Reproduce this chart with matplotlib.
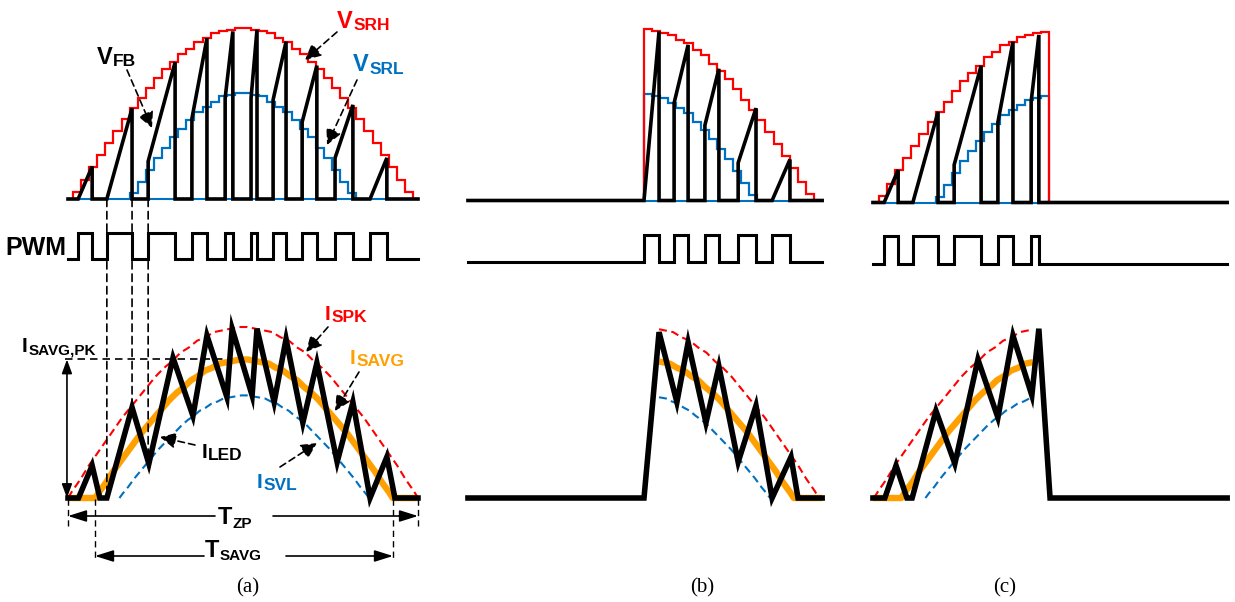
import numpy as np
import matplotlib.pyplot as plt
from matplotlib.patches import ConnectionPatch

plt.rcParams['font.family'] = ['Liberation Sans', 'DejaVu Sans']

# ============================================
# DATA  (time in ms over one 10 ms line half-cycle,
#        amplitudes normalised to the V_SRH / I_SPK peak)
# ============================================
sample_ms = 0.2314      # width of one step of the sampled references
cut_ms = 5.0            # phase-cut instant used in (b) and (c)

# rising half of the sampled references (the falling half is its mirror)
srh_rise = [0.04, 0.11, 0.19, 0.26, 0.33, 0.40, 0.47, 0.53, 0.59, 0.65, 0.71,
            0.76, 0.80, 0.85, 0.88, 0.92, 0.94, 0.97, 0.98, 0.99, 1.00]
srl_rise = [0.035, 0.10, 0.17, 0.24, 0.30, 0.36, 0.41, 0.46, 0.51, 0.54,
            0.57, 0.60, 0.61, 0.62]
srl_floor = (0.30, 9.30)

# V_FB ramps in (a): on time, off time, start level, end level
ramp_on  = [0.29, 1.11, 2.29, 3.54, 4.49, 5.23, 5.86, 6.69, 7.63, 8.63]
ramp_off = [0.69, 1.83, 3.06, 3.97, 4.71, 5.40, 6.23, 7.11, 8.14, 9.11]
ramp_lo  = [0.00, 0.00, 0.22, 0.47, 0.59, 0.59, 0.58, 0.45, 0.24, 0.00]
ramp_hi  = [0.19, 0.53, 0.80, 0.94, 0.98, 0.99, 0.92, 0.78, 0.55, 0.24]

# V_FB ramps in (b), after the leading-edge cut
ramp_on_b  = [5.00, 5.86, 6.74, 7.69, 8.66]
ramp_off_b = [5.43, 6.26, 7.14, 8.20, 9.17]
ramp_lo_b  = [0.00, 0.57, 0.44, 0.22, 0.00]
ramp_hi_b  = [0.99, 0.91, 0.77, 0.54, 0.24]

# (c) keeps the first ramps of (a) up to the trailing-edge cut
n_ramps_c = 5

# LED current corners
iled_a_t = [0.00, 0.30, 0.69, 0.91, 1.11, 1.83, 2.31, 3.00, 3.57, 3.97, 4.54, 4.69,
            5.26, 5.40, 5.89, 6.23, 6.71, 7.11, 7.69, 8.14, 8.63, 9.11, 9.34, 10.00]
iled_a_i = [0.00, 0.00, 0.19, 0.00, 0.00, 0.53, 0.20, 0.82, 0.48, 0.95, 0.59, 0.99,
            0.60, 0.99, 0.56, 0.93, 0.44, 0.79, 0.21, 0.56, 0.00, 0.24, 0.00, 0.00]
iled_b_t = [-0.03, 5.00, 5.43, 5.94, 6.26, 6.77, 7.14, 7.69, 8.20, 8.66, 9.20, 9.40, 10.09]
iled_b_i = [0.00, 0.00, 0.97, 0.56, 0.91, 0.44, 0.77, 0.21, 0.54, 0.00, 0.24, 0.00, 0.00]
iled_c_t = [-0.03, 0.31, 0.63, 0.94, 1.09, 1.77, 2.31, 2.97, 3.54, 3.97, 4.51, 4.71, 5.03, 10.09]
iled_c_i = [0.00, 0.00, 0.19, 0.00, 0.00, 0.51, 0.20, 0.81, 0.47, 0.95, 0.60, 0.99, 0.00, 0.00]

# current envelopes: (start, end) in ms and peak
spk_span, spk_peak = (0.00, 10.00), 1.00
savg_span, savg_peak = (0.78, 9.28), 0.81
svl_span, svl_peak = (1.47, 8.60), 0.60

# parts of the envelopes shown in each panel
env_window = {'a': (0.00, 10.00), 'b': (5.43, 10.09), 'c': (-0.03, 4.54)}

RED, BLUE, ORANGE = '#FF0000', '#0070C0', '#FFA000'

# ============================================
# FIGURE
# ============================================
W, H = 1235, 602
PX_MS, PX_V = 35.0, 171.0
fig = plt.figure(figsize=(W / 100, H / 100), dpi=100)


def make_axes(x0, y0, px_v):
    t_lo, t_hi, v_lo, v_hi = -1.0, 11.0, -0.5, 1.3
    left, right = x0 + t_lo * PX_MS, x0 + t_hi * PX_MS
    bottom, top = y0 - v_lo * px_v, y0 - v_hi * px_v
    a = fig.add_axes([left / W, 1 - bottom / H, (right - left) / W, (bottom - top) / H])
    a.set_xlim(t_lo, t_hi)
    a.set_ylim(v_lo, v_hi)
    a.axis('off')
    return a


def saw(on, off, lo, hi, t0, t1):
    t, v = [t0], [0.0]
    for a_, b_, l_, h_ in zip(on, off, lo, hi):
        t += [a_, a_, b_, b_]
        v += [0.0, l_, h_, 0.0]
    return t + [t1], v + [0.0]


srh = np.array(srh_rise + srh_rise[::-1])
srh_edges = cut_ms + sample_ms * (np.arange(len(srh) + 1) - len(srh_rise))
srl = np.array(srl_rise + srl_rise[::-1])
srl_edges = cut_ms + sample_ms * (np.arange(len(srl) + 1) - len(srl_rise))
profile = srh


def envelope(span, peak):
    lo, hi = span
    t = lo + (np.arange(len(profile)) + 0.5) * (hi - lo) / len(profile)
    return np.r_[lo, t, hi], np.r_[0.0, peak * profile, 0.0]


def window(t, v, lo, hi):
    m = (t > lo) & (t < hi)
    return (np.r_[lo, t[m], hi],
            np.r_[np.interp(lo, t, v), v[m], np.interp(hi, t, v)])


panels = {
    'a': dict(x0=68, top=199, pwm=259, pwm_px=26.5, t0=0.0, t1=10.0,
              ramps=(ramp_on, ramp_off, ramp_lo, ramp_hi),
              red=slice(0, None), blue=slice(0, None), floor=srl_floor,
              iled=(iled_a_t, iled_a_i)),
    'b': dict(x0=469, top=200.5, pwm=261.7, pwm_px=27, t0=-0.03, t1=10.09,
              ramps=(ramp_on_b, ramp_off_b, ramp_lo_b, ramp_hi_b),
              red=slice(len(srh_rise), None), blue=slice(len(srl_rise), None),
              floor=(cut_ms, srl_floor[1]), iled=(iled_b_t, iled_b_i)),
    'c': dict(x0=874, top=202.5, pwm=264, pwm_px=28, t0=-0.03, t1=10.09,
              ramps=(ramp_on[:n_ramps_c], ramp_off[:n_ramps_c],
                     ramp_lo[:n_ramps_c], ramp_hi[:n_ramps_c]),
              red=slice(0, len(srh_rise)), blue=slice(0, len(srl_rise)),
              floor=(srl_floor[0], cut_ms), iled=(iled_c_t, iled_c_i)),
}
BOT = 498
axes = {}

for key, p in panels.items():
    # ---- sampled references and V_FB ----
    at = make_axes(p['x0'], p['top'], PX_V)
    s = p['red']
    red_vals = srh[s]
    red_edges = srh_edges[s.start:(None if s.stop is None else s.stop + 1)]
    s = p['blue']
    blue_vals = srl[s]
    blue_edges = srl_edges[s.start:(None if s.stop is None else s.stop + 1)]
    at.plot(p['floor'], [0, 0], color=BLUE, lw=1.5, zorder=2)
    at.stairs(blue_vals, blue_edges, baseline=0, color=BLUE, lw=1.6, zorder=2)
    at.stairs(red_vals, red_edges, baseline=0, color=RED, lw=1.6, zorder=3)
    t, v = saw(*p['ramps'], p['t0'], p['t1'])
    at.plot(t, v, color='black', lw=2.6, zorder=4, solid_joinstyle='miter')

    # ---- PWM ----
    ap = make_axes(p['x0'], p['pwm'], p['pwm_px'])
    on, off = p['ramps'][0], p['ramps'][1]
    t, v = saw(on, off, [1] * len(on), [1] * len(on), p['t0'], p['t1'])
    ap.plot(t, v, color='black', lw=2.2, solid_joinstyle='miter')

    # ---- currents ----
    ab = make_axes(p['x0'], BOT, PX_V)
    lo, hi = env_window[key]
    st, sv = envelope(savg_span, savg_peak)
    st = np.r_[min(p['t0'], lo), st, max(p['t1'], hi)]
    sv = np.r_[0.0, sv, 0.0]
    ab.plot(*window(st, sv, lo, hi), color=ORANGE, lw=4.6, zorder=2,
            solid_capstyle='butt')
    ab.plot(*window(*envelope(spk_span, spk_peak), max(lo, spk_span[0]), hi),
            color=RED, lw=1.5, dashes=(3.8, 2.2), zorder=3)
    ab.plot(*window(*envelope(svl_span, svl_peak), max(lo, svl_span[0]),
                    min(hi, svl_span[1])),
            color=BLUE, lw=1.5, dashes=(3.8, 2.2), zorder=3)
    ab.plot(*p['iled'], color='black', lw=4.0, zorder=4, solid_joinstyle='miter')
    axes[key] = (at, ap, ab)

# dashed markers linking V_FB, PWM and I_LED in (a)
at, ap, ab = axes['a']
for tm in [ramp_on[1], ramp_off[1], ramp_on[2]]:
    con = ConnectionPatch(xyA=(tm, 0), coordsA=at.transData,
                          xyB=(tm, np.interp(tm, iled_a_t, iled_a_i)),
                          coordsB=ab.transData, color='black', lw=1.2,
                          linestyle=(0, (4.5, 3)))
    fig.add_artist(con)

# I_SAVG,PK marker
ab.plot([-0.09, 5.05], [savg_peak, savg_peak], color='black', lw=1.2,
        dashes=(4.5, 3), zorder=1)
ab.annotate('', xy=(-0.03, 0), xytext=(-0.03, savg_peak),
            arrowprops=dict(arrowstyle='<|-|>,head_length=0.6,head_width=0.22',
                            color='black', lw=1.2, shrinkA=0, shrinkB=0,
                            mutation_scale=14))

# ============================================
# TEXT AND ARROWS (picture pixel coordinates)
# ============================================
ov = fig.add_axes([0, 0, 1, 1])
ov.set_xlim(0, W)
ov.set_ylim(H, 0)
ov.axis('off')
renderer = fig.canvas.get_renderer()


def sub_label(x, y, main, sub, color='black', size=17, sub_size=12.5, drop=2.5):
    tx = ov.text(x, y, main, color=color, fontsize=size, fontweight='bold',
                 ha='left', va='baseline')
    bb = tx.get_window_extent(renderer)
    ov.text(x + bb.width + 0.5, y + drop, sub, color=color, fontsize=sub_size,
            fontweight='bold', ha='left', va='baseline')


def dash_arrow(tail, head):
    ov.annotate('', xy=head, xytext=tail,
                arrowprops=dict(arrowstyle='-|>,head_length=0.6,head_width=0.3',
                                color='black', lw=1.2, linestyle=(0, (4, 2.5)),
                                shrinkA=0, shrinkB=0, mutation_scale=16))


def solid_arrow(tail, head):
    ov.annotate('', xy=head, xytext=tail,
                arrowprops=dict(arrowstyle='-|>,head_length=0.7,head_width=0.22',
                                color='black', lw=1.2, shrinkA=0, shrinkB=0,
                                mutation_scale=16))


sub_label(97, 64, 'V', 'FB')
sub_label(337, 28, 'V', 'SRH', RED)
sub_label(353, 71, 'V', 'SRL', BLUE)
ov.text(5, 255, 'PWM', fontsize=18, fontweight='bold', ha='left', va='baseline')
sub_label(22, 352, 'I', 'SAVG,PK', size=15, sub_size=11)
sub_label(325, 320, 'I', 'SPK', RED, size=15)
sub_label(350, 364, 'I', 'SAVG', ORANGE, size=15)
sub_label(202, 458, 'I', 'LED', size=15)
sub_label(257, 488, 'I', 'SVL', BLUE, size=15)
sub_label(218, 524, 'T', 'ZP', sub_size=11, drop=3.5)
sub_label(205, 557, 'T', 'SAVG', sub_size=11, drop=3.5)

dash_arrow((127, 70), (152, 128))
dash_arrow((337, 32), (305, 60))
dash_arrow((357, 80), (327, 145))
dash_arrow((328, 327), (306, 352))
dash_arrow((359, 372), (335, 411))
dash_arrow((195, 445), (160, 437))
dash_arrow((280, 467), (317, 443))

# T_ZP / T_SAVG spans
for x in [68, 418]:
    ov.plot([x, x], [499, 526], color='black', lw=1.0, dashes=(4.5, 3))
for x in [95, 393]:
    ov.plot([x, x], [499, 558], color='black', lw=1.0, dashes=(4.5, 3))
solid_arrow((215, 516), (68, 516))
solid_arrow((273, 516), (418, 516))
solid_arrow((204, 556), (95, 556))
solid_arrow((286, 556), (393, 556))

for x, lab in [(248, '(a)'), (702, '(b)'), (1005, '(c)')]:
    ov.text(x, 588, lab, fontsize=15, family='Liberation Serif',
            ha='center', va='center')

fig.savefig('out.png', dpi=100)
